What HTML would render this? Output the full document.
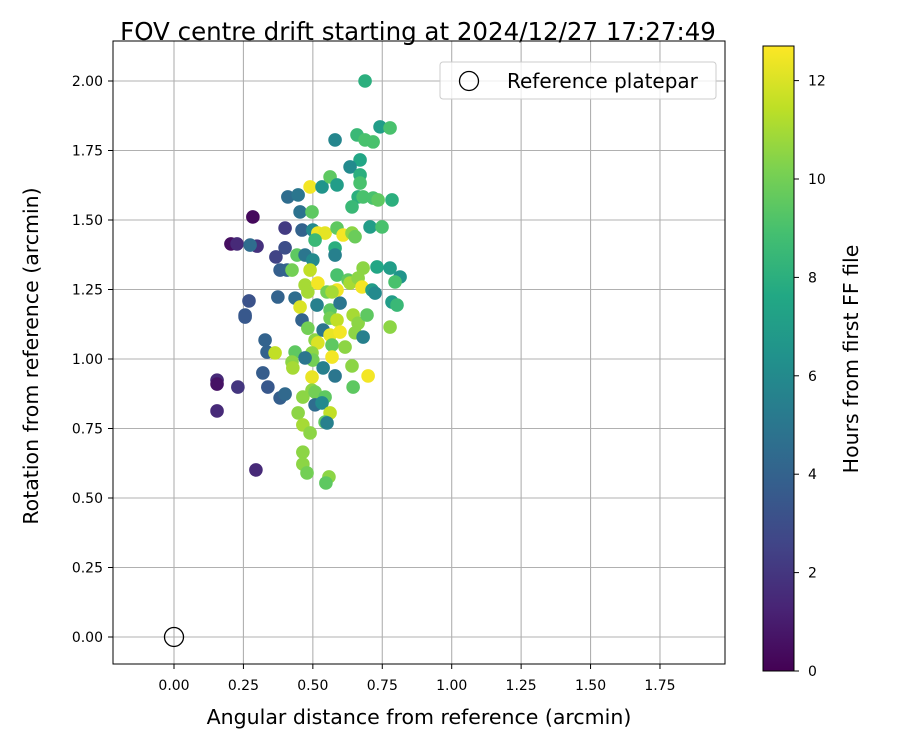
<!DOCTYPE html>
<html><head><meta charset="utf-8"><style>
body{margin:0;background:#fff;}
svg text{font-family:"DejaVu Sans","Liberation Sans",sans-serif;fill:#000;}
</style></head><body>
<svg id="chart" width="900" height="750" xmlns="http://www.w3.org/2000/svg">
<defs>
<linearGradient id="vir" x1="0" y1="1" x2="0" y2="0">
<stop offset="0" stop-color="#440154"/><stop offset="0.1" stop-color="#482475"/><stop offset="0.2" stop-color="#414487"/><stop offset="0.3" stop-color="#355f8d"/><stop offset="0.4" stop-color="#2a788e"/><stop offset="0.5" stop-color="#21918c"/><stop offset="0.6" stop-color="#22a884"/><stop offset="0.7" stop-color="#44bf70"/><stop offset="0.8" stop-color="#7ad151"/><stop offset="0.9" stop-color="#bddf26"/><stop offset="1" stop-color="#fde725"/>
</linearGradient>
<clipPath id="clip"><rect x="113" y="41" width="612" height="623"/></clipPath>
</defs>
<text x="418" y="40" font-size="24.5" text-anchor="middle">FOV centre drift starting at 2024/12/27 17:27:49</text>
<g id="grid"></g>
<g id="pts" clip-path="url(#clip)"></g>
<rect x="113" y="41" width="612" height="623" fill="none" stroke="#000" stroke-width="1"/>
<g id="axes"></g>
<text x="419" y="724" font-size="20.5" text-anchor="middle">Angular distance from reference (arcmin)</text>
<text transform="translate(38,356) rotate(-90)" font-size="20.5" text-anchor="middle">Rotation from reference (arcmin)</text>
<g>
<rect x="440" y="62" width="276" height="37" rx="3" fill="#fff" fill-opacity="0.8" stroke="#ccc"/>
<circle cx="469" cy="81" r="9.5" fill="none" stroke="#000" stroke-width="1.3"/>
<text x="507" y="88" font-size="20">Reference platepar</text>
</g>
<rect x="763" y="46" width="31" height="625" fill="url(#vir)" stroke="#000" stroke-width="1"/>
<g id="cbar"></g>
<text transform="translate(858,359) rotate(-90)" font-size="20.5" text-anchor="middle">Hours from first FF file</text>
</svg>
<script>
const xTicks=[0,0.25,0.5,0.75,1.0,1.25,1.5,1.75];
const yTicks=[0,0.25,0.5,0.75,1.0,1.25,1.5,1.75,2.0];
const cTicks=[0,2,4,6,8,10,12];
const refPoint=[0,0];
const xs=[0.284,0.205,0.227,0.155,0.155,0.155,0.230,0.295,0.299,0.400,0.274,0.367,0.256,0.270,0.256,0.461,0.454,0.410,0.447,0.580,0.688,0.382,0.407,0.425,0.497,0.490,0.533,0.562,0.587,0.500,0.518,0.544,0.508,0.587,0.609,0.641,0.652,0.580,0.580,0.670,0.634,0.670,0.670,0.663,0.681,0.717,0.735,0.785,0.641,0.706,0.749,0.659,0.688,0.717,0.742,0.778,0.443,0.472,0.500,0.490,0.472,0.518,0.587,0.551,0.587,0.627,0.634,0.663,0.677,0.681,0.731,0.778,0.814,0.796,0.713,0.724,0.328,0.335,0.364,0.320,0.338,0.382,0.400,0.374,0.436,0.454,0.482,0.461,0.482,0.508,0.518,0.497,0.500,0.436,0.425,0.428,0.472,0.515,0.562,0.598,0.569,0.537,0.562,0.587,0.562,0.598,0.569,0.616,0.645,0.663,0.652,0.681,0.695,0.785,0.803,0.778,0.569,0.537,0.580,0.641,0.699,0.645,0.497,0.497,0.464,0.508,0.544,0.508,0.533,0.562,0.544,0.551,0.447,0.464,0.490,0.464,0.464,0.479,0.558,0.547,0.400];
const ys=[1.511,1.414,1.414,0.924,0.910,0.813,0.899,0.601,1.406,1.471,1.410,1.367,1.158,1.209,1.151,1.464,1.529,1.583,1.590,1.788,2.000,1.320,1.320,1.320,1.529,1.619,1.619,1.655,1.626,1.464,1.453,1.453,1.428,1.471,1.446,1.453,1.440,1.399,1.374,1.716,1.691,1.662,1.633,1.583,1.583,1.579,1.572,1.572,1.547,1.475,1.475,1.806,1.788,1.781,1.835,1.831,1.374,1.374,1.356,1.320,1.266,1.273,1.248,1.241,1.302,1.284,1.273,1.291,1.259,1.327,1.331,1.327,1.295,1.277,1.248,1.237,1.068,1.025,1.022,0.950,0.899,0.860,0.874,1.223,1.219,1.187,1.241,1.140,1.111,1.068,1.058,1.022,0.996,1.025,0.989,0.968,1.004,1.194,1.176,1.201,1.241,1.104,1.147,1.140,1.086,1.097,1.050,1.043,1.158,1.129,1.094,1.079,1.158,1.205,1.194,1.115,1.007,0.968,0.939,0.975,0.939,0.899,0.935,0.888,0.863,0.881,0.863,0.835,0.842,0.806,0.773,0.770,0.806,0.763,0.734,0.665,0.622,0.590,0.576,0.554,1.400];
const hours=[0.3,0.5,1.5,1.5,0.6,1.5,2.0,1.5,1.8,2.2,4.5,2.5,3.5,3.2,3.5,4.0,4.8,4.5,5.0,5.8,8.0,3.8,4.0,10.0,9.5,12.5,6.5,9.5,7.0,6.0,12.4,12.2,8.5,9.5,12.5,10.5,9.8,8.0,5.5,7.5,6.0,8.0,9.0,8.0,9.0,9.0,9.5,8.0,8.5,7.0,9.0,8.5,9.0,9.0,7.0,9.0,9.5,5.0,6.0,11.5,11.0,12.5,12.5,10.0,9.0,9.5,11.0,10.5,12.5,10.5,7.5,7.0,6.5,9.0,7.0,6.0,4.0,4.0,11.5,3.7,3.5,3.8,4.3,4.0,4.5,12.0,11.0,4.0,10.0,10.5,12.0,10.5,10.0,9.5,10.5,11.0,5.0,5.5,9.5,5.0,11.0,5.0,10.0,11.5,12.3,12.5,9.5,10.5,11.0,10.5,10.5,5.5,9.5,7.0,8.5,10.5,12.5,5.5,5.0,10.5,12.5,9.5,12.3,10.5,10.5,10.0,9.5,4.5,6.0,11.5,9.5,5.5,10.5,11.0,10.5,10.5,10.5,10.0,10.5,9.5,3.0];
const X0=174,XS=277.7,Y0=637,YS=278,CB0=671,CBS=49.2,HMAX=12.7;
const sx=v=>X0+v*XS, sy=v=>Y0-v*YS, sc=v=>CB0-v*CBS;
const NS='http://www.w3.org/2000/svg';
const stops=[[68,1,84],[72,36,117],[65,68,135],[53,95,141],[42,120,142],[33,145,140],[34,168,132],[68,191,112],[122,209,81],[189,223,38],[253,231,37]];
function vir(t){t=Math.max(0,Math.min(1,t))*10;const i=Math.min(9,Math.floor(t)),f=t-i;const a=stops[i],b=stops[i+1];return 'rgb('+a.map((c,k)=>Math.round(c+(b[k]-c)*f)).join(',')+')';}
function mk(tag,attrs,parent){const e=document.createElementNS(NS,tag);for(const k in attrs)e.setAttribute(k,attrs[k]);parent.appendChild(e);return e;}
const grid=document.getElementById('grid'),axes=document.getElementById('axes'),pts=document.getElementById('pts'),cbar=document.getElementById('cbar');
xTicks.forEach(t=>{const x=sx(t);
const g=mk('line',{x1:x,x2:x,y1:41,y2:664,stroke:'#b0b0b0','stroke-width':1.1},grid);


const tk=mk('line',{x1:x,x2:x,y1:664,y2:669,stroke:'#000'},axes);


const tx=mk('text',{x:x,y:690,'font-size':14,'text-anchor':'middle'},axes);tx.textContent=t.toFixed(2);

});
yTicks.forEach(t=>{const y=sy(t);
const g=mk('line',{x1:113,x2:725,y1:y,y2:y,stroke:'#b0b0b0','stroke-width':1.1},grid);


const tk=mk('line',{x1:108,x2:113,y1:y,y2:y,stroke:'#000'},axes);


const tx=mk('text',{x:103,y:y+5,'font-size':14,'text-anchor':'end'},axes);tx.textContent=t.toFixed(2);

});
xs.forEach((v,i)=>{const c=mk('circle',{cx:sx(v),cy:sy(ys[i]),r:6.8,fill:vir(hours[i]/HMAX)},pts);

});
const ref=mk('circle',{cx:sx(refPoint[0]),cy:sy(refPoint[1]),r:9.5,fill:'none',stroke:'#000','stroke-width':1.3},pts);


cTicks.forEach(t=>{const y=sc(t);
const tk=mk('line',{x1:794,x2:799,y1:y,y2:y,stroke:'#000'},cbar);


const tx=mk('text',{x:808,y:y+5,'font-size':14},cbar);tx.textContent=t;

});
</script>
</body></html>
